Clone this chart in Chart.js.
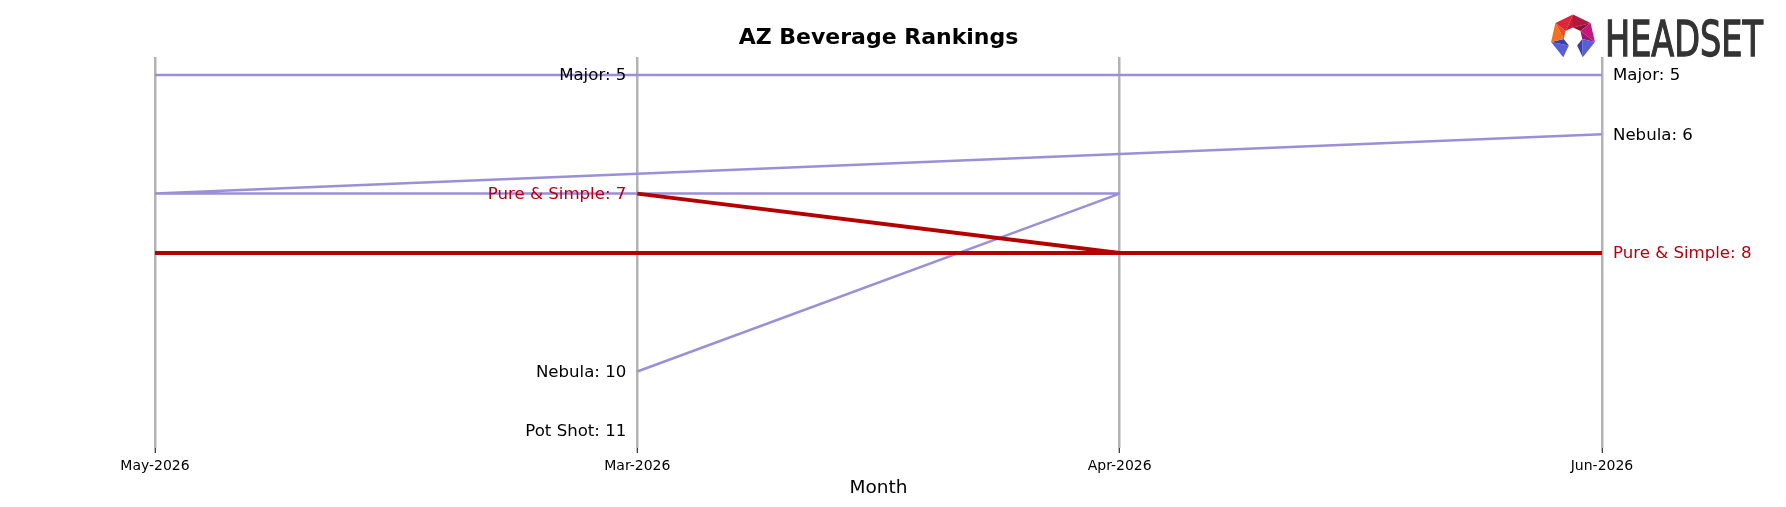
<!DOCTYPE html>
<html>
<head>
    <title>AZ Beverage Rankings</title>
    <script src="https://cdn.jsdelivr.net/npm/chart.js"></script>
    <style>
        body { margin: 0; background: #fff; }
    </style>
</head>
<body>
    <canvas id="rankChart" width="1786" height="507"></canvas>

    <script>
        // order of the months along the x axis (as in the original plot)
        const axisMonths = ['May-2026', 'Mar-2026', 'Apr-2026', 'Jun-2026'];
        // order in which each brand's line is drawn
        const periods = ['Mar-2026', 'Apr-2026', 'May-2026', 'Jun-2026'];

        const brands = ['Major', 'Nebula', 'Pure & Simple', 'Pot Shot'];
        const majorRanks = [5, 5, 5, 5];
        const nebulaRanks = [10, 7, 7, 6];
        const pureSimpleRanks = [7, 8, 8, 8];
        const potShotRanks = [11, null, null, null];

        const highlight = 'Pure & Simple';
        const purple = '#9a8fd8';
        const red = '#b30000';

        function toPoints(ranks) {
            return ranks.map((r, i) => ({ x: axisMonths.indexOf(periods[i]), y: r }));
        }

        const seriesRanks = [majorRanks, nebulaRanks, pureSimpleRanks, potShotRanks];

        const datasets = brands.map((name, i) => {
            const hl = name === highlight;
            return {
                label: name,
                data: toPoints(seriesRanks[i]),
                borderColor: hl ? red : purple,
                borderWidth: hl ? 4 : 2.5,
                borderJoinStyle: 'bevel',
                pointRadius: 0,
                fill: false,
                tension: 0,
                order: hl ? 0 : 1
            };
        });

        // brand labels at the first and last month
        const labelPlugin = {
            id: 'rankLabels',
            afterDatasetsDraw(chart) {
                const ctx = chart.ctx;
                const xs = chart.scales.x, ys = chart.scales.y;
                ctx.save();
                ctx.font = '16.6px "DejaVu Sans"';
                ctx.textBaseline = 'middle';
                brands.forEach((name, i) => {
                    const ranks = seriesRanks[i];
                    ctx.fillStyle = name === highlight ? '#b50010' : '#000';
                    const first = ranks[0];
                    if (first != null) {
                        ctx.textAlign = 'right';
                        ctx.fillText(name + ': ' + first,
                            xs.getPixelForValue(axisMonths.indexOf(periods[0])) - 11,
                            ys.getPixelForValue(first) + 1);
                    }
                    const last = ranks[ranks.length - 1];
                    if (last != null) {
                        ctx.textAlign = 'left';
                        ctx.fillText(name + ': ' + last,
                            xs.getPixelForValue(axisMonths.indexOf(periods[periods.length - 1])) + 11,
                            ys.getPixelForValue(last) + 1);
                    }
                });

                // title and axis title
                const cx = (chart.chartArea.left + chart.chartArea.right) / 2;
                ctx.fillStyle = '#000';
                ctx.textAlign = 'center';
                ctx.font = 'bold 22px "DejaVu Sans"';
                ctx.fillText('AZ Beverage Rankings', cx, 38);
                ctx.font = '18.5px "DejaVu Sans"';
                ctx.fillText('Month', cx, 488);

                drawLogo(ctx);
                ctx.restore();
            }
        };

        function drawLogo(ctx) {
            const cx = 1573, cy = 37, R = 22.5, r = 9.5;
            const pt = (rad, k) => {
                const a = (-90 + k * 360 / 7) * Math.PI / 180;
                return [cx + rad * Math.cos(a), cy + rad * Math.sin(a)];
            };
            const segs = [
                [0, '#b3173f', '#8e1236'],
                [1, '#c4197a', '#a01470'],
                [2, '#5a5fd4', '#3c40a8'],
                [4, '#5a5fd4', '#3c40a8'],
                [5, '#f37021', '#e2541f'],
                [6, '#e0243c', '#c81d36']
            ];
            segs.forEach(([k, c1, c2]) => {
                const o1 = pt(R, k), o2 = pt(R, k + 1), i1 = pt(r, k), i2 = pt(r, k + 1);
                ctx.fillStyle = c1;
                ctx.beginPath();
                ctx.moveTo(...o1); ctx.lineTo(...o2); ctx.lineTo(...i1); ctx.closePath();
                ctx.fill();
                ctx.fillStyle = c2;
                ctx.beginPath();
                ctx.moveTo(...o2); ctx.lineTo(...i2); ctx.lineTo(...i1); ctx.closePath();
                ctx.fill();
            });
            // legs
            ctx.fillStyle = '#2b2e8c';
            let o = pt(R, 3), i = pt(r, 3);
            ctx.beginPath(); ctx.moveTo(...o); ctx.lineTo(...i); ctx.lineTo(1584, 60); ctx.closePath(); ctx.fill();
            o = pt(R, 4); i = pt(r, 4);
            ctx.beginPath(); ctx.moveTo(...o); ctx.lineTo(...i); ctx.lineTo(1562, 60); ctx.closePath(); ctx.fill();

            ctx.fillStyle = '#333';
            ctx.strokeStyle = '#333';
            ctx.lineWidth = 1.3;
            ctx.textAlign = 'left';
            ctx.textBaseline = 'alphabetic';
            ctx.font = '50px "Liberation Sans Narrow", "DejaVu Sans Condensed", "Liberation Sans"';
            ctx.fillText('HEADSET', 1605, 56, 158);
            ctx.strokeText('HEADSET', 1605, 56, 158);
        }

        const ctx = document.getElementById('rankChart').getContext('2d');
        new Chart(ctx, {
            type: 'line',
            data: { datasets: datasets },
            options: {
                responsive: false,
                animation: false,
                layout: { padding: { left: 155, right: 184, top: 57, bottom: 0 } },
                plugins: {
                    legend: { display: false },
                    title: { display: false },
                    tooltip: { enabled: false }
                },
                scales: {
                    x: {
                        type: 'linear',
                        min: 0,
                        max: 3,
                        afterFit(scale) { scale.height = 59; },
                        border: { display: false },
                        grid: {
                            color: '#b3b3b3',
                            lineWidth: 2.5,
                            tickLength: 5,
                            tickColor: '#000',
                            tickWidth: 1
                        },
                        ticks: {
                            stepSize: 1,
                            padding: 5,
                            color: '#000',
                            font: { family: 'DejaVu Sans', size: 14 },
                            maxRotation: 0,
                            callback: v => axisMonths[v]
                        }
                    },
                    y: {
                        display: false,
                        reverse: true,
                        min: 4.696,
                        max: 11.29
                    }
                }
            },
            plugins: [labelPlugin]
        });
    </script>
</body>
</html>
